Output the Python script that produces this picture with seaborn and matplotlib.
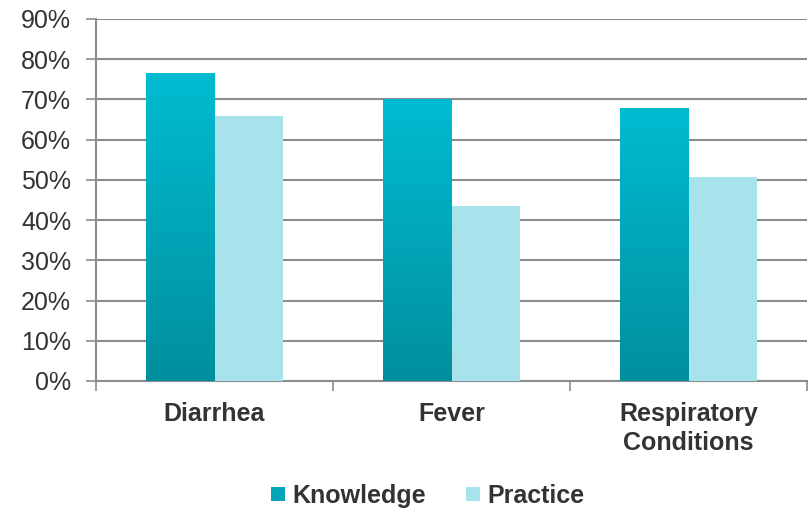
import numpy as np
import pandas as pd
import matplotlib
matplotlib.use("Agg")
import matplotlib.pyplot as plt
from matplotlib.colors import LinearSegmentedColormap
from matplotlib.lines import Line2D
import seaborn as sns

categories = ["Diarrhea", "Fever", "Respiratory\nConditions"]
knowledge = [0.766, 0.700, 0.679]
practice = [0.658, 0.434, 0.506]
series = ["Knowledge", "Practice"]
y_ticks = [0, 0.1, 0.2, 0.3, 0.4, 0.5, 0.6, 0.7, 0.8, 0.9]
y_tick_labels = ["0%", "10%", "20%", "30%", "40%", "50%", "60%", "70%", "80%", "90%"]

df = pd.DataFrame({
    "category": categories * 2,
    "series": [series[0]] * 3 + [series[1]] * 3,
    "value": knowledge + practice,
})

sns.set_theme(style="white")
plt.rcParams["font.family"] = ["Liberation Sans", "DejaVu Sans"]

TEXT = "#333333"
GRID = "#8c8c8c"
K_TOP = "#00bcd1"
K_BOT = "#008f9e"
P_COL = "#a8e2ea"

fig = plt.figure(figsize=(8.11, 5.12), dpi=100)
ax = fig.add_axes([96 / 811, 1 - 381 / 512, (807 - 96) / 811, (381 - 19) / 512])

sns.barplot(data=df, x="category", y="value", hue="series", order=categories,
            hue_order=series, palette=[K_TOP, P_COL], width=0.574, gap=0,
            saturation=1, legend=False, ax=ax, zorder=3, linewidth=0)

# gradient on knowledge bars
cmap = LinearSegmentedColormap.from_list("k", [K_BOT, K_TOP])
grad = np.linspace(0, 1, 256).reshape(-1, 1)
for patch in ax.containers[0]:
    x, y = patch.get_x(), patch.get_y()
    w, h = patch.get_width(), patch.get_height()
    im = ax.imshow(grad, cmap=cmap, origin="lower", aspect="auto",
                   extent=[x, x + w, y, y + h], zorder=3.5,
                   vmin=0, vmax=1, interpolation="bicubic")
    im.set_clip_path(patch)
ax.set_xlim(-0.5, 2.5)
ax.set_ylim(0, 0.9)

ax.set_yticks(y_ticks)
ax.set_yticklabels(y_tick_labels)
ax.yaxis.grid(True, color=GRID, linewidth=1.5, zorder=0)
ax.set_axisbelow(True)
ax.tick_params(axis="y", length=7, width=1.2, color=GRID, direction="out",
               labelsize=18, labelcolor=TEXT, pad=11, left=True)

ax.set_xticks([0, 1, 2])
ax.set_xticklabels(categories, fontweight="bold", color=TEXT, fontsize=18,
                   linespacing=1.25)
ax.tick_params(axis="x", length=0, pad=15)
ax.set_xticks([-0.5, 0.5, 1.5, 2.5], minor=True)
ax.tick_params(axis="x", which="minor", length=7, width=1.2, color=GRID,
               direction="out", bottom=True)

ax.set_xlabel("")
ax.set_ylabel("")
for s in ["top", "right"]:
    ax.spines[s].set_visible(False)
for s in ["left", "bottom"]:
    ax.spines[s].set_color(GRID)
    ax.spines[s].set_linewidth(1.5)

handles = [
    Line2D([], [], marker="s", linestyle="", markersize=10.5,
           markerfacecolor="#00a5b8", markeredgewidth=0),
    Line2D([], [], marker="s", linestyle="", markersize=10.5,
           markerfacecolor=P_COL, markeredgewidth=0),
]
fig.legend(handles, series, loc="center", bbox_to_anchor=(425 / 811, 1 - 496 / 512),
           ncol=2, frameon=False, handletextpad=0.05, columnspacing=1.4,
           prop={"weight": "bold", "size": 18}, labelcolor=TEXT,
           handlelength=1.0)

fig.savefig("out.png", dpi=100)
